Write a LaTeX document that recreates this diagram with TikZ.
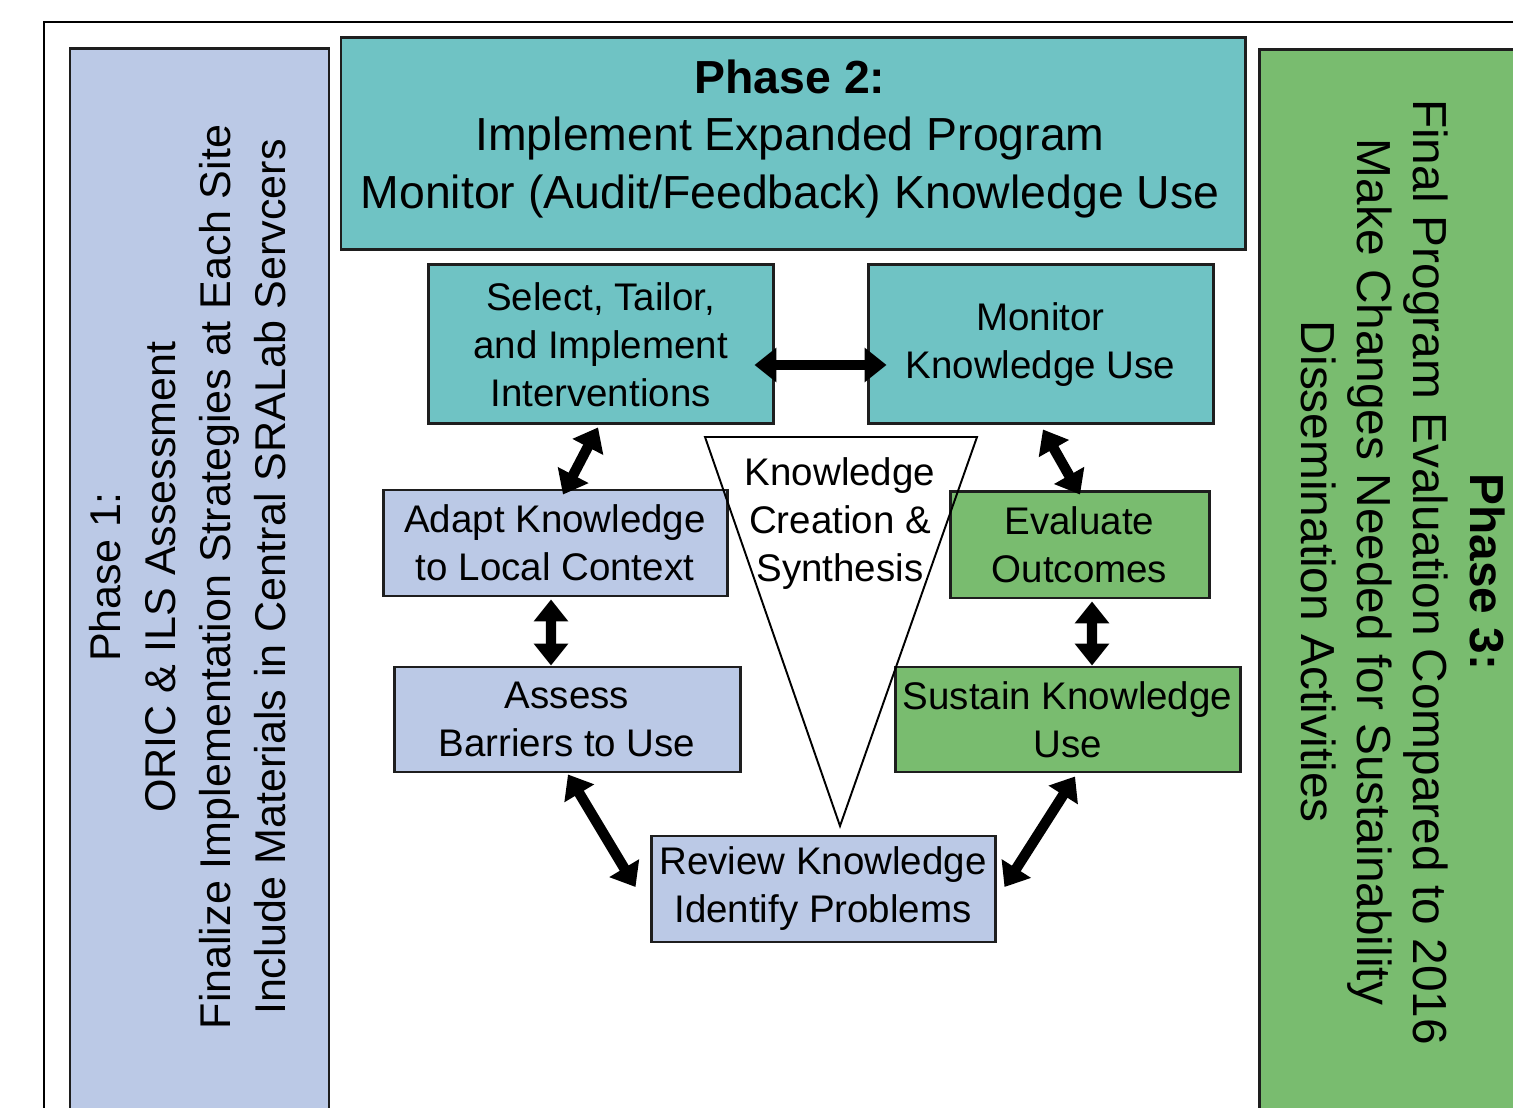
\documentclass[tikz,border=0pt]{standalone}
\usepackage{fontspec}
\setmainfont{Liberation Sans}
\usepackage{tikz}
\usetikzlibrary{arrows.meta,positioning,calc}
\definecolor{kblue}{RGB}{187,201,230}
\definecolor{kteal}{RGB}{111,195,196}
\definecolor{kgreen}{RGB}{121,188,111}
\definecolor{kline}{RGB}{30,30,30}
\newcommand{\boxfont}{\fontsize{21.9}{27.3}\selectfont}
\newcommand{\phtwofont}{\fontsize{26.4}{32.7}\selectfont}
\newcommand{\phonefont}{\fontsize{24.5}{31.3}\selectfont}
\newcommand{\phthreefont}{\fontsize{27.2}{31.9}\selectfont}
\tikzset{
  kbox/.style={draw=kline, line width=1.7pt, inner sep=0pt, align=center, font=\boxfont},
  bluebox/.style={kbox, fill=kblue},
  tealbox/.style={kbox, fill=kteal},
  greenbox/.style={kbox, fill=kgreen},
  phase/.style={draw=kline, line width=1.7pt},
  dbl/.style={{Triangle[length=12.5pt,width=19pt]}-{Triangle[length=12.5pt,width=19pt]}, line width=5.9pt, black},
  tri/.style={draw=black, line width=1.1pt, line join=miter},
}

\begin{document}
\begin{tikzpicture}[x=1cm,y=1cm]
\useasboundingbox (0,0) rectangle (30.26,22.14);
\clip (0,0) rectangle (30.26,22.14);
% outer frame and the two side phases
\draw[line width=1.4pt] (0.88,-1) rectangle (31,21.70);
\draw[phase, fill=kblue] (1.40,-0.5) rectangle (6.58,21.16);
\draw[phase, fill=kgreen] (25.18,-0.5) rectangle (30.8,21.14);
\node[rotate=90, align=center, font=\phonefont] (ph1) at (3.76,10.60)
  {Phase 1:\\ORIC \& ILS Assessment\\Finalize Implementation Strategies at Each Site\\Include Materials in Central SRALab Servcers};
\node[rotate=-90, align=center, font=\phthreefont] (ph3) at (28.06,10.70)
  {\textbf{Phase 3:}\\Final Program Evaluation Compared to 2016\\Make Changes Needed for Sustainability\\Dissemination Activities};
% phase 2 banner
\node[tealbox, minimum width=18.08cm, minimum height=4.24cm] (ph2) at (15.86,19.26) {};
\node[align=center, font=\phtwofont] (ph2txt) at (15.80,19.36)
  {\textbf{Phase 2:}\\Implement Expanded Program\\Monitor (Audit/Feedback) Knowledge Use};
% cycle boxes
\node[tealbox, minimum width=6.9cm, minimum height=3.18cm] (sel) at (12.01,15.25)
  {Select, Tailor,\\and Implement\\Interventions};
\node[tealbox, minimum width=6.9cm, minimum height=3.18cm] (mon) at (20.81,15.25)
  {Monitor\\Knowledge Use};
\node[bluebox, minimum width=6.88cm, minimum height=2.12cm] (adapt) at (11.10,11.28)
  {Adapt Knowledge\\to Local Context};
\node[greenbox, minimum width=5.18cm, minimum height=2.12cm] (eval) at (21.59,11.24)
  {Evaluate\\Outcomes};
\node[bluebox, minimum width=6.92cm, minimum height=2.10cm] (assess) at (11.34,7.75)
  {Assess\\Barriers to Use};
\node[greenbox, minimum width=6.9cm, minimum height=2.10cm] (sust) at (21.35,7.75)
  {Sustain Knowledge\\Use};
\node[bluebox, minimum width=6.88cm, minimum height=2.12cm] (rev) at (16.46,4.36)
  {Review Knowledge\\Identify Problems};
% knowledge funnel
\coordinate (tl) at (14.10,13.40);
\coordinate (tr) at (19.54,13.40);
\coordinate (tb) at (16.80,5.62);
\draw[tri] (tl) -- (tr) -- (tb) -- cycle;
\node[align=center, font=\boxfont] (kcs) at (16.80,11.67) {Knowledge\\Creation \&\\Synthesis};
% two-way links
\draw[dbl] ($(sel.east)+(-0.40,-0.41)$) -- ($(mon.west)+(0.40,-0.41)$);
\draw[dbl] ($(sel.south)+(-0.05,-0.04)$) -- ($(adapt.north)+(0.16,-0.12)$);
\draw[dbl] ($(mon.south)+(0.05,-0.08)$) -- ($(eval.north)+(0.01,-0.08)$);
\draw[dbl] ($(adapt.south)+(-0.08,-0.04)$) -- ($(assess.north)+(-0.32,0)$);
\draw[dbl] ($(eval.south)+(0.25,-0.04)$) -- ($(sust.north)+(0.49,0)$);
\draw[dbl] ($(assess.south)+(0.02,-0.02)$) -- ($(rev.west)+(-0.28,0.04)$);
\draw[dbl] ($(sust.south)+(0.15,-0.06)$) -- ($(rev.east)+(0.16,0.04)$);
\end{tikzpicture}
\end{document}
